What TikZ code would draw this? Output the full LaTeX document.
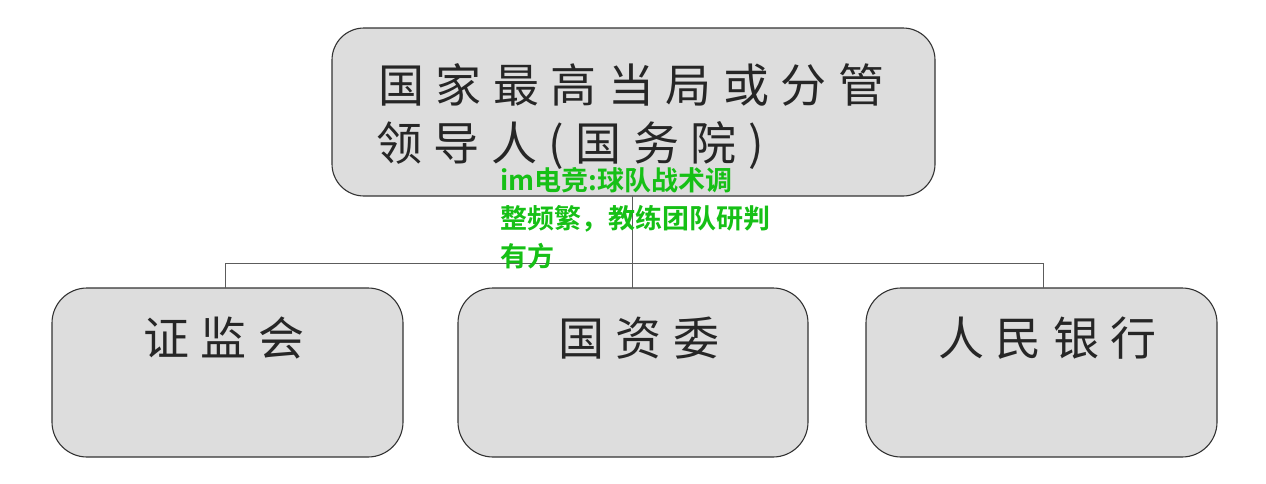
\documentclass[tikz,border=0pt]{standalone}
\usepackage{fontspec}
\newfontfamily\boxfont[LetterSpace=25]{Noto Sans CJK SC}
\newfontfamily\greenfont[BoldFont=*]{Noto Sans CJK SC Bold}
\definecolor{boxfill}{HTML}{DDDDDD}
\definecolor{boxline}{HTML}{333333}
\definecolor{wmgreen}{RGB}{22,192,22}
\begin{document}
\begin{tikzpicture}[x=1pt,y=-1pt,
  orgbox/.style={draw=boxline,line width=1.1pt,fill=boxfill,rounded corners=32pt,inner sep=0pt},
  conn/.style={draw=boxline!80,line width=0.9pt},
  boxtext/.style={font=\boxfont\fontsize{46}{60}\selectfont,text=black!85,anchor=west,inner sep=0pt},
  wmtext/.style={font=\greenfont\bfseries\fontsize{27}{38}\selectfont,text=wmgreen,anchor=north west,inner sep=0pt,align=left}]
\useasboundingbox (0,0) rectangle (1266,483);
% boxes
\path[orgbox] (332,28) rectangle (935,196);
\coordinate (top) at (632,196);
\path[orgbox,rounded corners=35pt] (52,288) rectangle (403,457);
\path[orgbox,rounded corners=35pt] (458,288) rectangle (808,457);
\path[orgbox,rounded corners=35pt] (866,288) rectangle (1217,457);
\coordinate (b1) at (225,288);
\coordinate (b2) at (632,288);
\coordinate (b3) at (1043,288);
\coordinate (hl) at (225,263);
\coordinate (hr) at (1043,263);
% connectors
\draw[conn] (top) -- (b2);
\draw[conn] (hl) -- (hr);
\draw[conn] (hl) -- (b1);
\draw[conn] (hr) -- (b3);
% texts
\node[boxtext] (t1) at (378,85) {国家最高当局或分管};
\node[boxtext] (t2) at (376,145) {领导人(国务院)};
\node[boxtext] (s1) at (143,338) {证监会};
\node[boxtext] (s2) at (558,338) {国资委};
\node[boxtext] (s3) at (938,338) {人民银行};
\node[wmtext] (wm) at (500,167) {im电竞:球队战术调\\整频繁，教练团队研判\\有方};
\end{tikzpicture}
\end{document}
